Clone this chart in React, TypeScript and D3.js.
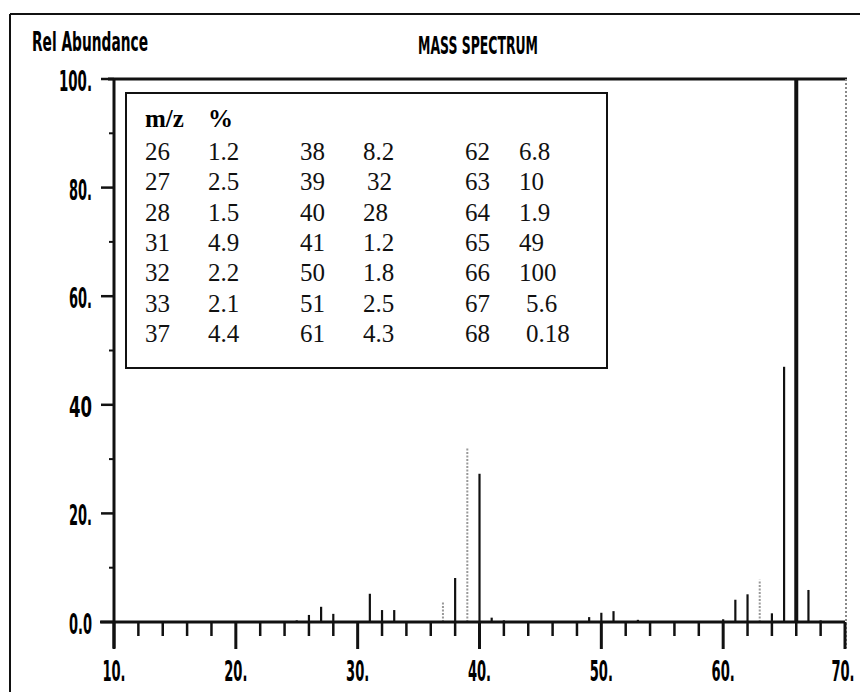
import React from "react";
import * as d3 from "d3";

// spectrum peaks as drawn (solid black lines)
const peakMz = [25, 26, 27, 28, 31, 32, 33, 38, 40, 41, 42, 49, 50, 51, 53, 60, 61, 62, 64, 65, 66, 67, 68];
const peakAbund = [0.3, 1.3, 2.8, 1.5, 5.2, 2.2, 2.2, 8.1, 27.3, 0.8, 0.3, 0.9, 1.7, 2.0, 0.4, 0.5, 4.1, 5.1, 1.6, 47, 100, 5.9, 0.3];
// peaks that came out faint / dotted in the print
const fadedMz = [37, 39, 63];
const fadedAbund = [3.7, 32, 7.8];

// the m/z table printed in the box
const tableMz = [
  ["26", "27", "28", "31", "32", "33", "37"],
  ["38", "39", "40", "41", "50", "51", "61"],
  ["62", "63", "64", "65", "66", "67", "68"],
];
const tablePct = [
  ["1.2", "2.5", "1.5", "4.9", "2.2", "2.1", "4.4"],
  ["8.2", "32", "28", "1.2", "1.8", "2.5", "4.3"],
  ["6.8", "10", "1.9", "49", "100", "5.6", "0.18"],
];

const xTicks = [10, 20, 30, 40, 50, 60, 70];
const xTickLabels = ["10.", "20.", "30.", "40.", "50.", "60.", "70."];
const yTicks = [0, 20, 40, 60, 80, 100];
const yTickLabels = ["0.0", "20.", "40", "60.", "80.", "100."];

const W = 860;
const H = 692;

const labelFont = "'DejaVu Sans Condensed', 'Liberation Sans Narrow', sans-serif";
const tableFont = "'Liberation Serif', 'DejaVu Serif', serif";

export default function App() {
  const x = d3.scaleLinear().domain([10, 70]).range([114, 845]);
  const y = d3.scaleLinear().domain([0, 100]).range([622, 79]);

  const minorX = d3.range(12, 70, 2).filter(v => v % 10 !== 0);
  const minorY = d3.range(10, 100, 20);

  // table column positions
  const colMzX = [145, 300, 465];
  const colPctX = [208, 363, 519];
  const rowY = (i: number) => 160 + i * 30.3;
  // the printed table is a little uneven in its last rows
  const pctShift = (c: number, i: number) => (c === 2 && i >= 5 ? 7 : c === 1 && i === 1 ? 4 : 0);

  return (
    <svg width={W} height={H} style={{ position: "absolute", left: 0, top: 0, background: "#fff" }}>
      {/* outer frame */}
      <line x1={10} y1={14} x2={W} y2={14} stroke="#111" strokeWidth={2} />
      <line x1={10} y1={14} x2={10} y2={H} stroke="#111" strokeWidth={2} />

      {/* titles */}
      <text x={32} y={51} fontFamily={labelFont} fontWeight="bold" fontSize={27}
        textLength={116} lengthAdjust="spacingAndGlyphs">Rel Abundance</text>
      <text x={418} y={54} fontFamily={labelFont} fontWeight="bold" fontSize={25}
        textLength={120} lengthAdjust="spacingAndGlyphs">MASS SPECTRUM</text>

      {/* plot frame: top and dotted right */}
      <line x1={108} y1={y(100)} x2={847} y2={y(100)} stroke="#111" strokeWidth={3} />
      <line x1={x(70) + 1} y1={y(100)} x2={x(70) + 1} y2={648} stroke="#888" strokeWidth={2} strokeDasharray="2,2" />

      {/* legend table */}
      <rect x={126} y={93} width={481} height={275} fill="#fff" stroke="#111" strokeWidth={2} />
      <text x={colMzX[0]} y={127} fontFamily={tableFont} fontWeight="bold" fontSize={25}>m/z</text>
      <text x={colPctX[0]} y={127} fontFamily={tableFont} fontWeight="bold" fontSize={25}>%</text>
      {tableMz.map((col, c) =>
        col.map((mz, i) => (
          <g key={`t${c}-${i}`} fontFamily={tableFont} fontSize={25} fill="#111">
            <text x={colMzX[c]} y={rowY(i)}>{mz}</text>
            <text x={colPctX[c] + pctShift(c, i)} y={rowY(i)}>{tablePct[c][i]}</text>
          </g>
        ))
      )}

      {/* peaks */}
      {fadedMz.map((m, i) => (
        <line key={`f${m}`} x1={x(m)} x2={x(m)} y1={y(0)} y2={y(fadedAbund[i])}
          stroke="#999" strokeWidth={2} strokeDasharray="2,1.5" />
      ))}
      {peakMz.map((m, i) => (
        <line key={`p${m}`} x1={x(m)} x2={x(m)} y1={y(0)} y2={y(peakAbund[i])}
          stroke="#111" strokeWidth={m === 66 ? 4 : 2.2} />
      ))}

      {/* x axis */}
      <line x1={100} y1={y(0)} x2={x(70)} y2={y(0)} stroke="#111" strokeWidth={3} />
      {minorX.map(v => (
        <line key={`mx${v}`} x1={x(v)} x2={x(v)} y1={y(0)} y2={y(0) + 14} stroke="#111" strokeWidth={2.5} />
      ))}
      {xTicks.map(v => (
        <line key={`x${v}`} x1={x(v)} x2={x(v)} y1={y(0)} y2={y(0) + 27} stroke="#111" strokeWidth={3} />
      ))}
      {xTicks.map((v, i) => (
        <text key={`xl${v}`} transform={`translate(${Math.min(x(v), W - 17)},681) scale(0.52,1)`}
          textAnchor="middle" fontFamily={labelFont} fontWeight="bold" fontSize={28}>{xTickLabels[i]}</text>
      ))}

      {/* y axis */}
      <line x1={x(10)} y1={y(100)} x2={x(10)} y2={648} stroke="#111" strokeWidth={3} />
      {yTicks.map(v => (
        <line key={`y${v}`} x1={101} x2={x(10)} y1={y(v)} y2={y(v)} stroke="#111" strokeWidth={2.5} />
      ))}
      {minorY.map(v => (
        <line key={`my${v}`} x1={109} x2={x(10)} y1={y(v)} y2={y(v)} stroke="#111" strokeWidth={2} />
      ))}
      {yTicks.map((v, i) => (
        <text key={`yl${v}`} x={92} y={y(v) + 12} textAnchor="end" fontFamily={labelFont} fontWeight="bold"
          fontSize={29} textLength={yTickLabels[i].length > 3 ? 33 : 23} lengthAdjust="spacingAndGlyphs">
          {yTickLabels[i]}
        </text>
      ))}
    </svg>
  );
}
